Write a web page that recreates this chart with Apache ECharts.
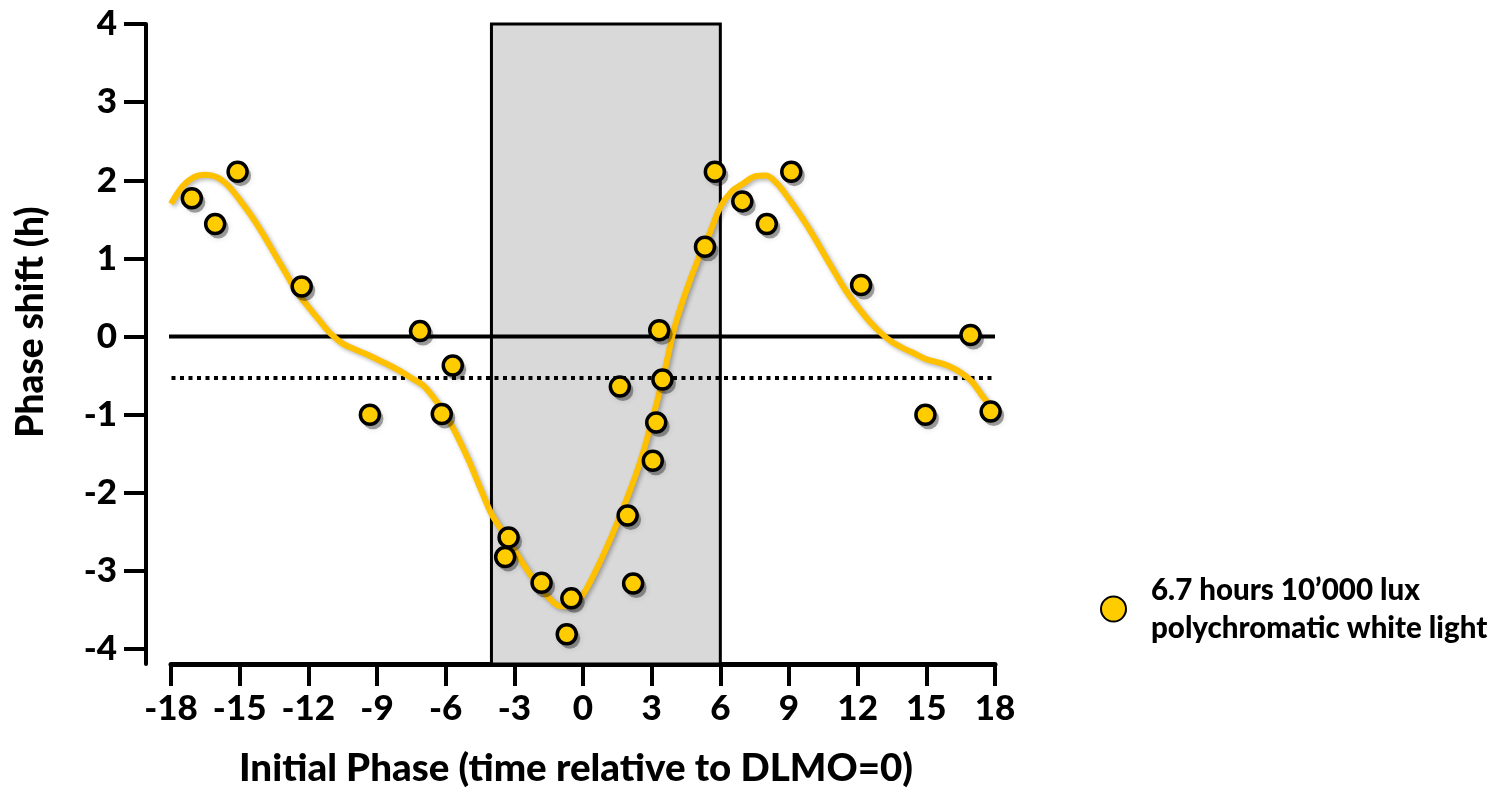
<!DOCTYPE html>
<html>
<head>
<meta charset="utf-8">
<title>Phase response curve</title>
<script src="https://cdn.jsdelivr.net/npm/echarts@6/dist/echarts.min.js"></script>
<style>
  html, body { margin: 0; padding: 0; background: #fff; }
  #chart { width: 1512px; height: 794px; }
</style>
</head>
<body>
<div id="chart"></div>
<script>
// Individual phase shifts: initial phase (h, relative to DLMO) and shift (h)
const pointPhase = [-17.09, -16.07, -15.09, -12.29, -9.31, -7.12, -6.17, -5.69,
  -3.40, -3.25, -1.81, -0.51, -0.71, 1.61, 1.95, 2.19, 3.05, 3.20, 3.33, 3.47,
  5.33, 5.76, 6.96, 8.03, 9.10, 12.15, 14.96, 16.93, 17.81];
const pointShift = [1.77, 1.44, 2.11, 0.64, -1.00, 0.07, -0.99, -0.37,
  -2.82, -2.57, -3.15, -3.35, -3.81, -0.64, -2.29, -3.16, -1.59, -1.10, 0.08, -0.55,
  1.15, 2.11, 1.73, 1.44, 2.11, 0.66, -1.00, 0.02, -0.96];

// Fitted phase response curve
const curvePhase = [-18, -17.5, -17, -16.5, -16, -15.5, -15, -14.5, -14, -13.5, -13,
  -12.5, -12, -11.5, -11, -10.5, -10, -9.5, -9, -8.5, -8, -7.5, -7, -6.5, -6, -5.5,
  -5, -4.5, -4, -3.5, -3, -2.5, -2, -1.5, -1, -0.5, 0, 0.5, 1, 1.5, 2, 2.5, 3, 3.5,
  4, 4.5, 5, 5.5, 6, 6.5, 7, 7.5, 8, 8.5, 9, 9.5, 10, 10.5, 11, 11.5, 12, 12.5, 13,
  13.5, 14, 14.5, 15, 15.5, 16, 16.5, 17, 17.5, 18];
const curveShift = [1.70, 1.92, 2.04, 2.07, 2.04, 1.93, 1.75, 1.55, 1.32, 1.07, 0.82,
  0.57, 0.38, 0.20, 0.03, -0.09, -0.16, -0.22, -0.29, -0.36, -0.44, -0.53, -0.62, -0.79,
  -1.00, -1.27, -1.58, -1.93, -2.27, -2.50, -2.73, -2.96, -3.17, -3.34, -3.45, -3.45,
  -3.30, -3.03, -2.72, -2.38, -2.01, -1.60, -1.09, -0.52, 0.12, 0.58, 0.97, 1.30, 1.66,
  1.86, 1.96, 2.05, 2.06, 1.95, 1.76, 1.55, 1.32, 1.07, 0.82, 0.58, 0.38, 0.20, 0.05,
  -0.07, -0.15, -0.22, -0.29, -0.33, -0.38, -0.46, -0.58, -0.78, -0.95];

// Reference levels: no shift and mean shift
const zeroLevel = 0;
const meanShift = -0.53;
const refSpan = [-18.35, 18];

// Light exposure window (h)
const lightWindow = [-4, 6];

// Axis ticks
const xTicks = [-18, -15, -12, -9, -6, -3, 0, 3, 6, 9, 12, 15, 18];
const yTicks = [-4, -3, -2, -1, 0, 1, 2, 3, 4];

const seriesName = '6.7 hours 10\u2019000 lux\npolychromatic white light';
const FONT = 'Lato, "Open Sans", sans-serif';
const WEIGHT = 900;

const chart = echarts.init(document.getElementById('chart'), null, { renderer: 'canvas' });

const pointData = pointPhase.map((x, i) => [x, pointShift[i]]);

chart.setOption({
  animation: false,
  backgroundColor: '#fff',
  grid: { left: 171, right: 517, top: 24, bottom: 130, containLabel: false },
  xAxis: {
    type: 'value',
    min: -18,
    max: 18,
    interval: 3,
    splitLine: { show: false },
    axisLine: { show: true, onZero: false, lineStyle: { color: '#000', width: 5 } },
    axisTick: { show: true, length: 22, lineStyle: { color: '#000', width: 4 } },
    axisLabel: {
      color: '#000', fontFamily: FONT, fontWeight: WEIGHT, fontSize: 35, margin: 27,
      customValues: xTicks
    },
    name: 'Initial Phase (time relative to DLMO=0)',
    nameLocation: 'middle',
    nameGap: 85,
    nameTextStyle: { color: '#000', fontFamily: FONT, fontWeight: WEIGHT, fontSize: 38.5, padding: [0, 14, 0, 0] }
  },
  yAxis: {
    type: 'value',
    min: -4.19,
    max: 4,
    offset: 25,
    splitLine: { show: false },
    axisLine: { show: true, onZero: false, lineStyle: { color: '#000', width: 4 } },
    axisTick: { show: true, length: 22, lineStyle: { color: '#000', width: 4 }, customValues: yTicks },
    axisLabel: {
      color: '#000', fontFamily: FONT, fontWeight: WEIGHT, fontSize: 35, margin: 29,
      customValues: yTicks
    },
    name: 'Phase shift (h)',
    nameLocation: 'middle',
    nameRotate: 90,
    nameGap: 96,
    nameTextStyle: { color: '#000', fontFamily: FONT, fontWeight: WEIGHT, fontSize: 37, padding: [0, 0, 0, 44] }
  },
  legend: {
    data: [seriesName],
    left: 1095,
    top: 553,
    icon: 'circle',
    itemWidth: 25,
    itemHeight: 25,
    itemGap: 10,
    textStyle: { color: '#000', fontFamily: FONT, fontWeight: WEIGHT, fontSize: 29.5, lineHeight: 38, padding: [26, 0, 0, 20] }
  },
  series: [
    {
      name: 'light window',
      type: 'line',
      data: [],
      z: 1,
      silent: true,
      markArea: {
        silent: true,
        itemStyle: { color: '#d9d9d9', borderColor: '#000', borderWidth: 3 },
        data: [[{ xAxis: lightWindow[0] }, { xAxis: lightWindow[1] }]]
      }
    },
    {
      name: 'no shift',
      type: 'line',
      z: 2,
      clip: false,
      silent: true,
      showSymbol: false,
      lineStyle: { color: '#000', width: 4 },
      data: refSpan.map(x => [x, zeroLevel])
    },
    {
      name: 'mean shift',
      type: 'line',
      z: 2,
      clip: false,
      silent: true,
      showSymbol: false,
      lineStyle: { color: '#000', width: 4, type: [4, 4.5], cap: 'butt' },
      data: refSpan.map(x => [x, meanShift])
    },
    {
      name: 'fit',
      type: 'line',
      z: 3,
      smooth: 0.3,
      showSymbol: false,
      silent: true,
      lineStyle: {
        color: '#FFC000', width: 6,
        shadowColor: 'rgba(0,0,0,0.3)', shadowBlur: 4, shadowOffsetX: 2, shadowOffsetY: 2
      },
      data: curvePhase.map((x, i) => [x, curveShift[i]])
    },
    {
      // soft drop shadow under each marker
      name: 'marker shadow',
      type: 'scatter',
      z: 4,
      silent: true,
      symbol: 'circle',
      symbolSize: 21,
      symbolOffset: [3, 4],
      itemStyle: {
        color: 'rgba(0,0,0,0.35)', opacity: 1,
        shadowColor: 'rgba(0,0,0,0.35)', shadowBlur: 6
      },
      data: pointData
    },
    {
      name: seriesName,
      type: 'scatter',
      z: 5,
      symbol: 'circle',
      symbolSize: 19,
      itemStyle: { color: '#FFCC00', opacity: 1, borderColor: '#000', borderWidth: 3.5 },
      data: pointData
    }
  ]
});
</script>
</body>
</html>
